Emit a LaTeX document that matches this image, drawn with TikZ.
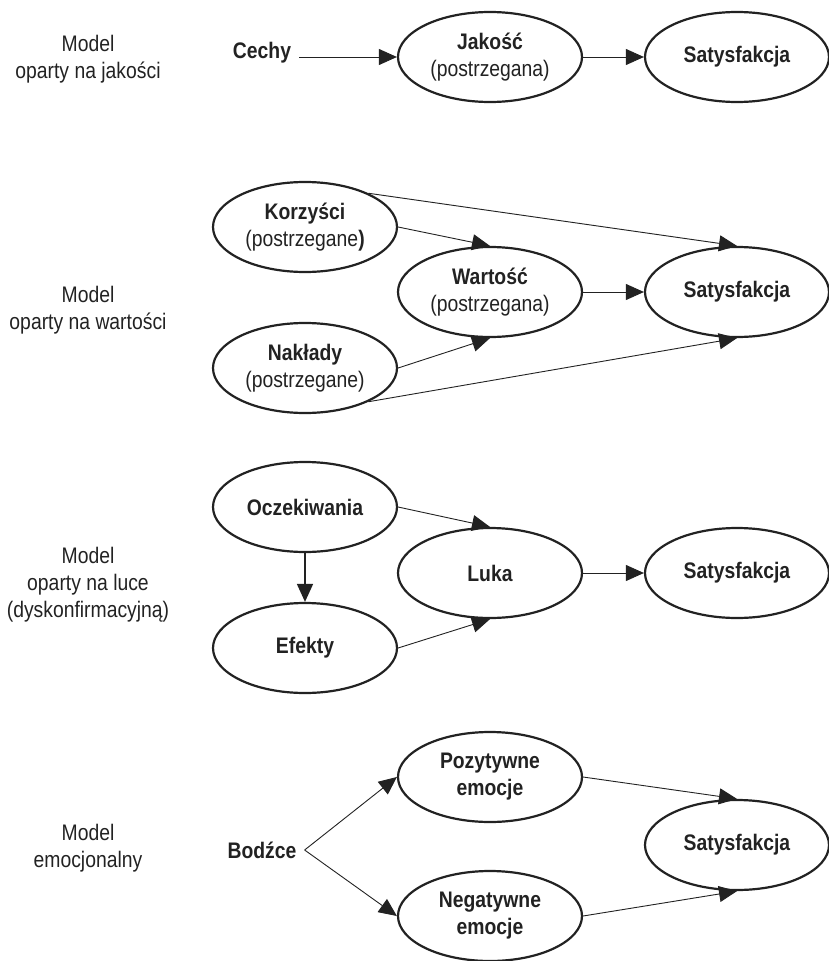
\documentclass[tikz,border=0pt]{standalone}
\usepackage{fontspec}
\setmainfont{Liberation Sans}[FakeStretch=0.86]
\usetikzlibrary{shapes.geometric,arrows.meta}
\definecolor{ink}{HTML}{222222}
\begin{document}
\begin{tikzpicture}[x=1pt,y=-1pt,
  font=\fontsize{22.5}{27}\selectfont,
  every node/.style={text=ink},
  oval/.style={ellipse,draw=ink,line width=2.2pt,minimum width=184pt,minimum height=90pt,inner sep=0pt,align=center},
  plain/.style={inner sep=8pt,align=center},
  modellabel/.style={align=center,inner sep=0pt},
  link/.style={draw=ink,line width=0.9pt,-{Triangle[length=18pt,width=16pt]}},
  thicklink/.style={link,line width=1.6pt}
]
\useasboundingbox (0,0) rectangle (828,961);

% --- quality-based model ---
\node[modellabel] (m1) at (88,59) {Model\\oparty na jakości};
\node[plain,font=\fontsize{22.5}{27}\selectfont\bfseries] (cechy) at (262,53) {Cechy};
\node[oval] (jak) at (490,57) {\textbf{Jakość}\\(postrzegana)};
\node[oval] (sat1) at (737,57) {\textbf{Satysfakcja}};
\draw[link] (cechy.east |- jak) -- (jak.west);
\draw[link] (jak.east) -- (sat1.west);

% --- value-based model ---
\node[modellabel] (m2) at (88,310) {Model\\oparty na wartości};
\node[oval] (kor) at (305,227) {\textbf{Korzyści}\\(postrzegane\textbf{)}};
\node[oval] (war) at (490,292) {\textbf{Wartość}\\(postrzegana)};
\node[oval] (nak) at (305,368) {\textbf{Nakłady}\\(postrzegane)};
\node[oval] (sat2) at (737,292) {\textbf{Satysfakcja}};
\draw[link] (kor.east) -- (war.north);
\draw[link] (nak.east) -- (war.south);
\draw[link] (kor.28) -- (sat2.north);
\draw[link] (nak.-28) -- (sat2.south);
\draw[link] (war.east) -- (sat2.west);

% --- disconfirmation (gap) model ---
\node[modellabel] (m3) at (88,585) {Model\\oparty na luce\\(dyskonfirmacyjną)};
\node[oval] (ocz) at (305,507) {\textbf{Oczekiwania}};
\node[oval] (luka) at (490,573) {\textbf{Luka}};
\node[oval] (efe) at (305,648) {\textbf{Efekty}};
\node[oval] (sat3) at (737,573) {\textbf{Satysfakcja}};
\draw[thicklink] (ocz.south) -- (efe.north);
\draw[link] (ocz.east) -- (luka.north);
\draw[link] (efe.east) -- (luka.south);
\draw[link] (luka.east) -- (sat3.west);

% --- emotional model ---
\node[modellabel] (m4) at (88,848) {Model\\emocjonalny};
\node[plain,font=\fontsize{22.5}{27}\selectfont\bfseries] (bod) at (262,850) {Bodźce};
\node[oval] (poz) at (490,777) {\textbf{Pozytywne}\\\textbf{emocje}};
\node[oval] (neg) at (490,916) {\textbf{Negatywne}\\\textbf{emocje}};
\node[oval] (sat4) at (737,845) {\textbf{Satysfakcja}};
\draw[link] (bod.east) -- (poz.west);
\draw[link] (bod.east) -- (neg.west);
\draw[link] (poz.east) -- (sat4.north);
\draw[link] (neg.east) -- (sat4.south);
\end{tikzpicture}
\end{document}
